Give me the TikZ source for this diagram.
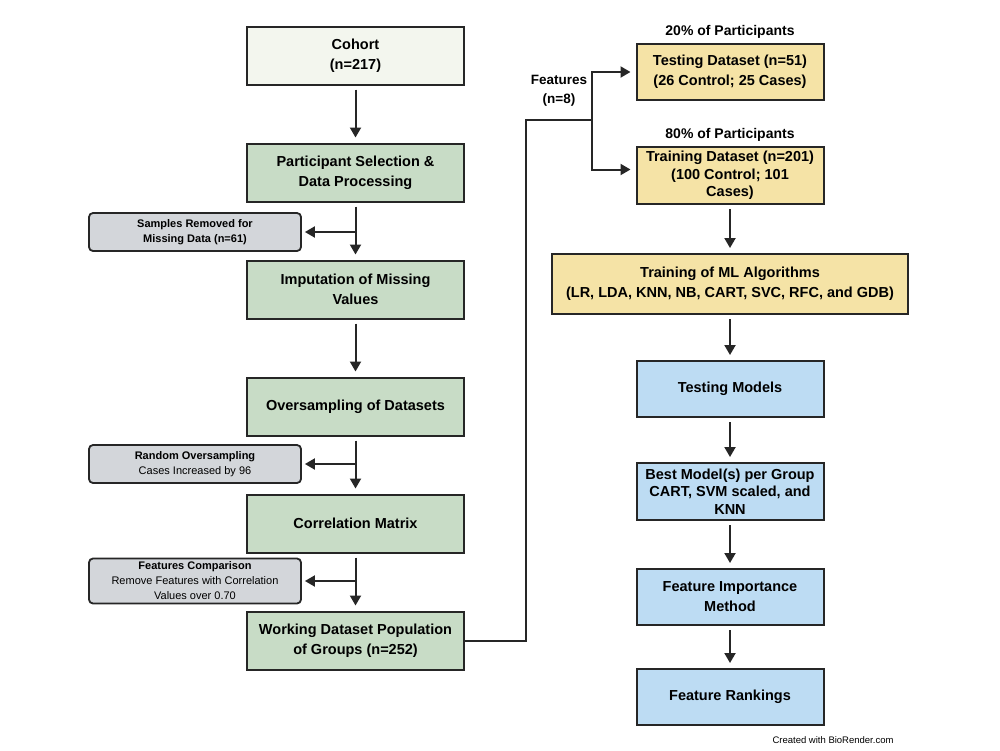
\documentclass[tikz,border=0pt]{standalone}
\usepackage{fontspec}
\setmainfont{Liberation Sans}
\usetikzlibrary{arrows.meta,positioning}
\definecolor{cohortfill}{HTML}{F3F6EE}
\definecolor{stepgreen}{HTML}{C8DCC6}
\definecolor{dsyellow}{HTML}{F5E3A6}
\definecolor{mlblue}{HTML}{BDDCF3}
\definecolor{notegray}{HTML}{D3D6DA}
\definecolor{ink}{HTML}{262626}
\begin{document}
\begin{tikzpicture}[x=1pt,y=1pt,node distance=57pt,
 box/.style={draw=ink,line width=2pt,align=center,inner sep=2pt,minimum width=217pt,minimum height=58pt,font=\bfseries\fontsize{14.5}{20}\selectfont},
 rbox/.style={box,minimum width=187pt,minimum height=56pt},
 tight/.style={font=\bfseries\fontsize{14.5}{17.5}\selectfont},
 note/.style={draw=ink,line width=1.8pt,rounded corners=4pt,fill=notegray,align=center,inner sep=2pt,minimum width=212pt,minimum height=38pt,font=\fontsize{11}{15}\selectfont},
 lbl/.style={align=center,inner sep=1pt,font=\bfseries\fontsize{14}{19}\selectfont},
 arr/.style={draw=ink,line width=2pt,-{Triangle[length=10pt,width=11pt]},shorten <=4pt,shorten >=5pt},
 wire/.style={draw=ink,line width=2pt}]
\fill[white] (0,0) rectangle (1000,-750);
\useasboundingbox (0,0) rectangle (1000,-750);
% left column
\node[box,fill=cohortfill] (cohort) at (355.5,-55.5) {Cohort\\(n=217)};
\node[box,fill=stepgreen,below=of cohort] (select) {Participant Selection \&\\Data Processing};
\node[box,fill=stepgreen,below=of select] (impute) {Imputation of Missing\\Values};
\node[box,fill=stepgreen,below=of impute] (oversamp) {Oversampling of Datasets};
\node[box,fill=stepgreen,below=of oversamp] (corrmat) {Correlation Matrix};
\node[box,fill=stepgreen,below=of corrmat] (workset) {Working Dataset Population\\of Groups (n=252)};
\node[note] (removed) at (195,-232) {\textbf{Samples Removed for}\\\textbf{Missing Data (n=61)}};
\node[note] (randover) at (195,-464) {\textbf{Random Oversampling}\\Cases Increased by 96};
\node[note,minimum height=45pt] (featcomp) at (195,-581) {\textbf{Features Comparison}\\Remove Features with Correlation\\Values over 0.70};
% right column
\node[rbox,fill=dsyellow] (testset) at (730,-72) {Testing Dataset (n=51)\\(26 Control; 25 Cases)};
\node[rbox,tight,fill=dsyellow,below=45pt of testset,minimum height=57pt] (trainset) {Training Dataset (n=201)\\(100 Control; 101\\Cases)};
\node[box,fill=dsyellow,below=48pt of trainset,minimum width=356pt,minimum height=60pt] (mltrain) {Training of ML Algorithms\\(LR, LDA, KNN, NB, CART, SVC, RFC, and GDB)};
\node[rbox,fill=mlblue,below=45pt of mltrain] (testmod) {Testing Models};
\node[rbox,tight,fill=mlblue,below=44pt of testmod,minimum height=57pt] (bestmod) {Best Model(s) per Group\\CART, SVM scaled, and\\KNN};
\node[rbox,fill=mlblue,below=47pt of bestmod] (featimp) {Feature Importance\\Method};
\node[rbox,fill=mlblue,below=42pt of featimp] (featrank) {Feature Rankings};
\node[lbl,above=3pt of testset] (pct20) {20\% of Participants};
\node[lbl,above=3pt of trainset] (pct80) {80\% of Participants};
\coordinate (split) at (592,-120);
\node[lbl,font=\bfseries\fontsize{13.5}{19}\selectfont] (featlbl) at (559,-91) {Features\\(n=8)};
\node[font=\fontsize{9.5}{10}\selectfont] (credit) at (833,-740) {Created with BioRender.com};
% connectors
\draw[arr] (cohort)--(select);\draw[arr] (select)--(impute);\draw[arr] (impute)--(oversamp);\draw[arr] (oversamp)--(corrmat);\draw[arr] (corrmat)--(workset);
\draw[arr,shorten <=0pt,shorten >=3pt] (select.south |- removed.east)--(removed.east);
\draw[arr,shorten <=0pt,shorten >=3pt] (oversamp.south |- randover.east)--(randover.east);
\draw[arr,shorten <=0pt,shorten >=3pt] (corrmat.south |- featcomp.east)--(featcomp.east);
\draw[wire] (workset.east)--++(61,0)|-(split);
\draw[arr,shorten <=0pt] (split)|-(testset.west);\draw[arr,shorten <=0pt] (split)|-([yshift=6pt]trainset.west);
\draw[arr] (trainset)--(trainset.south |- mltrain.north);
\draw[arr] (mltrain.south -| testmod.north)--(testmod);\draw[arr] (testmod)--(bestmod);\draw[arr] (bestmod)--(featimp);\draw[arr] (featimp)--(featrank);
\end{tikzpicture}
\end{document}
